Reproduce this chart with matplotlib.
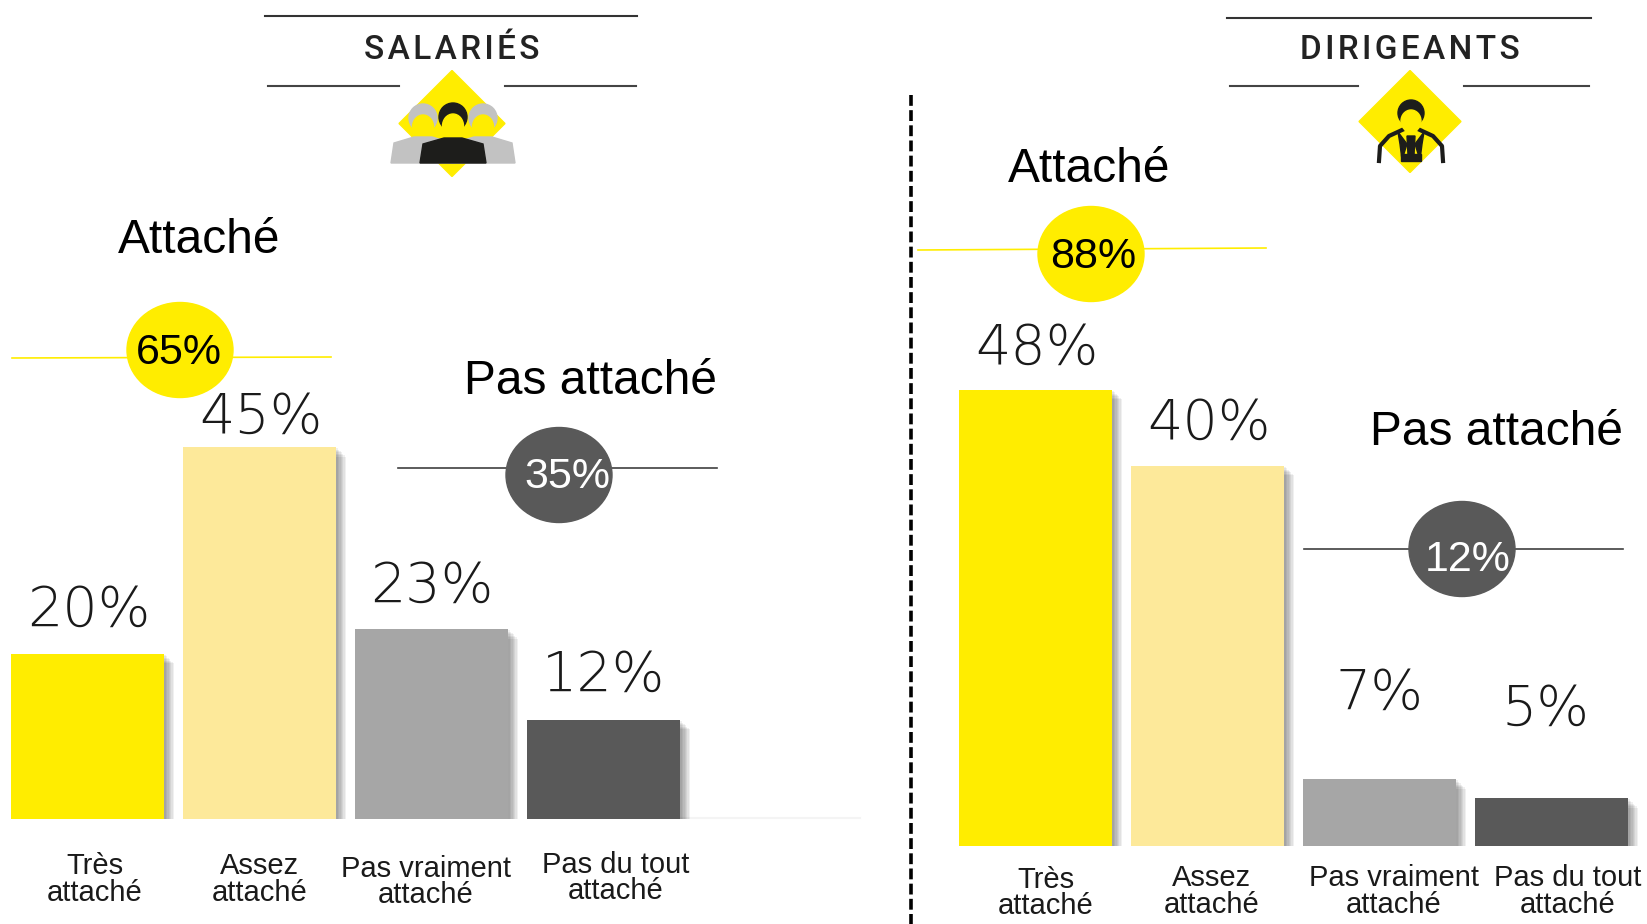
import matplotlib
matplotlib.use('Agg')
import matplotlib.pyplot as plt
import matplotlib.patheffects as pe
from matplotlib.patches import Ellipse, Polygon, Circle

W, H = 1647, 924

# values
salaries_vals = [20, 45, 23, 12]
dirigeants_vals = [48, 40, 7, 5]
salaries_tot = ['65%', '35%']
dirigeants_tot = ['88%', '12%']
cat_labels = ['Très\nattaché', 'Assez\nattaché', 'Pas vraiment\nattaché', 'Pas du tout\nattaché']
bar_colors = ['#FFED00', '#FDE99A', '#A6A6A6', '#595959']
YELLOW = '#FFED00'
DARK = '#595959'
ARIAL = ['Liberation Sans', 'DejaVu Sans']

fig = plt.figure(figsize=(W / 100, H / 100), dpi=100)
bg = fig.add_axes([0, 0, 1, 1])
bg.set_xlim(0, W)
bg.set_ylim(H, 0)
bg.axis('off')


def bars(vals, left, base, px_per_pct, gaps, dxs):
    # axes placed so that one y unit is one percent
    height = 50 * px_per_pct
    ax = fig.add_axes([left / W, (H - base) / H, 688 / W, height / H])
    ax.set_xlim(-0.5, 3.5)
    ax.set_ylim(0, 50)
    ax.axis('off')
    ax.patch.set_alpha(0)
    shadow = [pe.SimplePatchShadow(offset=(d, -d), shadow_rgbFace='#000000', alpha=0.06) for d in (1, 2, 3, 4, 5, 6, 7)]
    rects = ax.bar(range(4), vals, width=0.895, color=bar_colors)
    for r in rects:
        r.set_path_effects(shadow + [pe.Normal()])
    for i, v in enumerate(vals):
        ax.annotate(f'{v}%', (i, v), xytext=(dxs[i], gaps[i]), textcoords='offset pixels',
                    ha='center', va='baseline', fontsize=40, color='#1a1a1a',
                    family='DejaVu Sans', weight='light', clip_on=False)
    return ax


bars(salaries_vals, 1.5, 819, 8.27, [28, 14, 27, 29], [1, 1, 0, 0])
bars(dirigeants_vals, 949.5, 845.5, 9.5, [26, 27, 70, 73], [1, 1, 0, -6])

# faint ground line on the left panel
bg.plot([680, 860], [818, 818], color='#f4f4f4', lw=1.5)

# dashed separator
bg.plot([911, 911], [95, 924], color='black', lw=2.6, ls=(0, (3, 1.2)))


def total(cx, cy, tx, ty, text, color, txtcolor, x0, x1, ly, ly2):
    bg.plot([x0, x1], [ly, ly2], color=color if color == YELLOW else '#404040', lw=1.2, zorder=2)
    bg.add_patch(Ellipse((cx, cy), 106, 95, color=color, zorder=3))
    bg.text(tx, ty, text, ha='center', va='center', fontsize=31, color=txtcolor,
            family=ARIAL, zorder=4)


total(180, 350, 179, 353, salaries_tot[0], YELLOW, 'black', 12, 331, 358, 357)
total(559, 475, 567, 477, salaries_tot[1], DARK, 'white', 398, 717, 468, 468)
total(1091, 254, 1093, 257, dirigeants_tot[0], YELLOW, 'black', 918, 1266, 250, 248)
total(1462, 549, 1468, 560, dirigeants_tot[1], DARK, 'white', 1304, 1623, 549, 549)

# headings
for x, y, s in [(199, 253, 'Attaché'), (590, 394, 'Pas attaché'), (1089, 182, 'Attaché'), (1497, 445, 'Pas attaché')]:
    bg.text(x, y, s, ha='center', va='baseline', fontsize=34.5, color='black', family=ARIAL)

# category labels
for x, y, s in zip([94.5, 260, 426, 615.5], [879.5, 879.5, 882, 878], cat_labels):
    bg.text(x, y, s, ha='center', va='center', fontsize=21, color='#1a1a1a', family=ARIAL, linespacing=0.95)
for x, y, s in zip([1046, 1212, 1394, 1568], [893, 891.5, 891.5, 891.5], cat_labels):
    bg.text(x, y, s, ha='center', va='center', fontsize=21, color='#1a1a1a', family=ARIAL, linespacing=0.95)


def header(cx, title, top, x0, x1, l0, l1, l2, l3, dy, half, ty):
    bg.plot([x0, x1], [top, top], color='#333333', lw=1.5)
    bg.plot([l0, l1], [86, 86], color='#444444', lw=1.5)
    bg.plot([l2, l3], [86, 86], color='#444444', lw=1.5)
    bg.text(cx, ty, title, ha='center', va='center', fontsize=24, color='#222222',
            family=['Roboto', 'DejaVu Sans'], weight='medium')
    bg.add_patch(Polygon([(cx, dy - half), (cx + half, dy), (cx, dy + half), (cx - half, dy)], color=YELLOW, zorder=2))


header(452, 'S\u200aA\u200aL\u200aA\u200aR\u200aI\u200aÉ\u200aS', 16, 265, 637, 268, 399, 505, 636, 123.5, 53, 50)
header(1410, 'D\u200aI\u200aR\u200aI\u200aG\u200aE\u200aA\u200aN\u200aT\u200aS', 17.5, 1227, 1591, 1230, 1358, 1464, 1589, 121.5, 51, 50)


def person(cx, head_y, body_top, body_bot, half, color, z):
    bg.add_patch(Circle((cx, head_y), 14, color=color, zorder=z))
    bg.add_patch(Ellipse((cx, head_y + 9), 21, 24, color=YELLOW, zorder=z + 0.1))
    bg.add_patch(Polygon([(cx - half, body_bot), (cx - half + 3, body_top + 6), (cx - 9, body_top),
                          (cx + 9, body_top), (cx + half - 3, body_top + 6), (cx + half, body_bot)],
                         color=color, zorder=z + 0.2))


# salaries icon
person(423, 118, 137, 163, 32, '#C2C2C2', 3)
person(483, 118, 137, 163, 32, '#C2C2C2', 3)
person(453, 117, 138, 163, 33, '#1D1D1B', 4)

# dirigeants icon
c = 1411
bg.add_patch(Circle((c, 113), 13, color='#1D1D1B', zorder=3))
bg.add_patch(Ellipse((c, 121), 20, 22, color=YELLOW, zorder=3.1))
bg.plot([c - 32, c - 31, c - 22, c - 9], [161, 146, 136, 130], color='#1D1D1B', lw=3, zorder=3)
bg.plot([c + 32, c + 31, c + 22, c + 9], [161, 146, 136, 130], color='#1D1D1B', lw=3, zorder=3)
bg.add_patch(Polygon([(c - 13, 132), (c - 4, 144), (c - 9, 160), (c - 11, 144)], color='#1D1D1B', zorder=3))
bg.add_patch(Polygon([(c + 13, 132), (c + 4, 144), (c + 9, 160), (c + 11, 144)], color='#1D1D1B', zorder=3))
bg.add_patch(Polygon([(c - 4, 136), (c + 4, 136), (c + 3, 155), (c - 3, 155)], color='#1D1D1B', zorder=3))
bg.add_patch(Polygon([(c - 10, 154), (c + 10, 154), (c + 10, 161), (c - 10, 161)], color='#1D1D1B', zorder=3))

fig.savefig('out.png', dpi=100)
